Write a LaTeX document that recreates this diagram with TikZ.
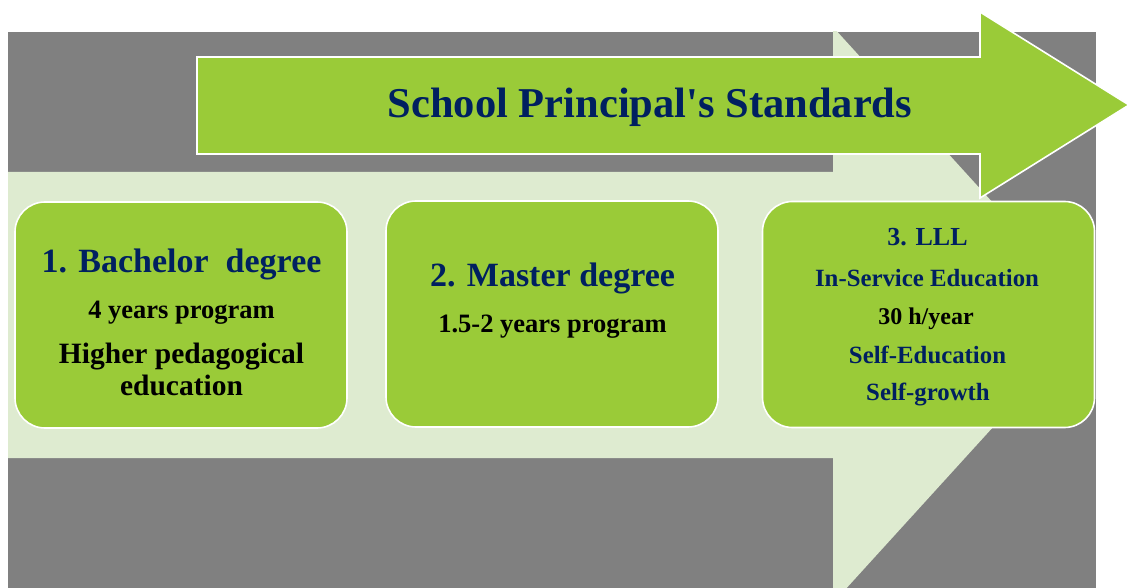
\documentclass[tikz,border=0pt]{standalone}
\usepackage{fontspec}
\setmainfont{Liberation Serif}
\definecolor{graybg}{RGB}{128,128,128}
\definecolor{palegreen}{RGB}{222,235,208}
\definecolor{brightgreen}{RGB}{154,203,56}
\definecolor{navy}{RGB}{0,32,96}
\begin{document}
\begin{tikzpicture}[x=1pt,y=-1pt,
  box/.style={draw=white, line width=1.6pt, fill=brightgreen, rounded corners=30pt,
    minimum width=332pt, minimum height=226pt, inner sep=0pt},
  ttl/.style={anchor=base, text=navy, font=\fontsize{42.5}{50}\selectfont\bfseries, inner sep=0pt},
  head/.style={anchor=base, text=navy, font=\fontsize{34}{40}\selectfont\bfseries, inner sep=0pt},
  sub/.style={anchor=base, text=black, font=\fontsize{26.5}{32}\selectfont\bfseries, inner sep=0pt},
  subb/.style={anchor=base, text=black, font=\fontsize{29.5}{34}\selectfont\bfseries, inner sep=0pt},
  lll/.style={anchor=base, text=navy, font=\fontsize{24.8}{30}\selectfont\bfseries, inner sep=0pt},
  lllk/.style={anchor=base, text=black, font=\fontsize{24}{30}\selectfont\bfseries, inner sep=0pt}]
\useasboundingbox (0,0) rectangle (1127,588);
% gray background
\fill[graybg] (8,32) rectangle (1096,588);
% pale big arrow
\begin{scope}
\clip (8,32) rectangle (1096,588);
\fill[palegreen] (8,172) -- (833,172) -- (833,27) -- (1095,315) -- (833,603) -- (833,458) -- (8,458) -- cycle;
\end{scope}
% top arrow
\draw[draw=white, line width=1.6pt, fill=brightgreen]
  (197,57) -- (980,57) -- (980,12) -- (1129,105) -- (980,198) -- (980,154) -- (197,154) -- cycle;
\node[ttl] (title) at (650,118) {School Principal\textquotesingle s Standards};
% boxes
\node[box] (b1) at (181,315) {};
\node[box] (b2) at (552,314) {};
\node[box] (b3) at (928.5,314.5) {};
% box 1 texts
\node[head] (b1a) at (181.5,272) {1. Bachelor\ \ degree};
\node[sub]  (b1b) at (181.5,318) {4 years program};
\node[subb] (b1c) at (181.5,363) {Higher pedagogical};
\node[subb] (b1d) at (181.5,395) {education};
% box 2 texts
\node[head] (b2a) at (552.5,286) {2. Master degree};
\node[sub]  (b2b) at (552.5,332) {1.5-2 years program};
% box 3 texts
\node[lll]  (b3a) at (927.5,245) {\fontsize{26}{30}\selectfont 3. LLL};
\node[lll]  (b3b) at (927,286) {In-Service Education};
\node[lllk] (b3c) at (926,324) {30 h/year};
\node[lll]  (b3d) at (927.5,363) {Self-Education};
\node[lll]  (b3e) at (928,400) {Self-growth};
\end{tikzpicture}
\end{document}
